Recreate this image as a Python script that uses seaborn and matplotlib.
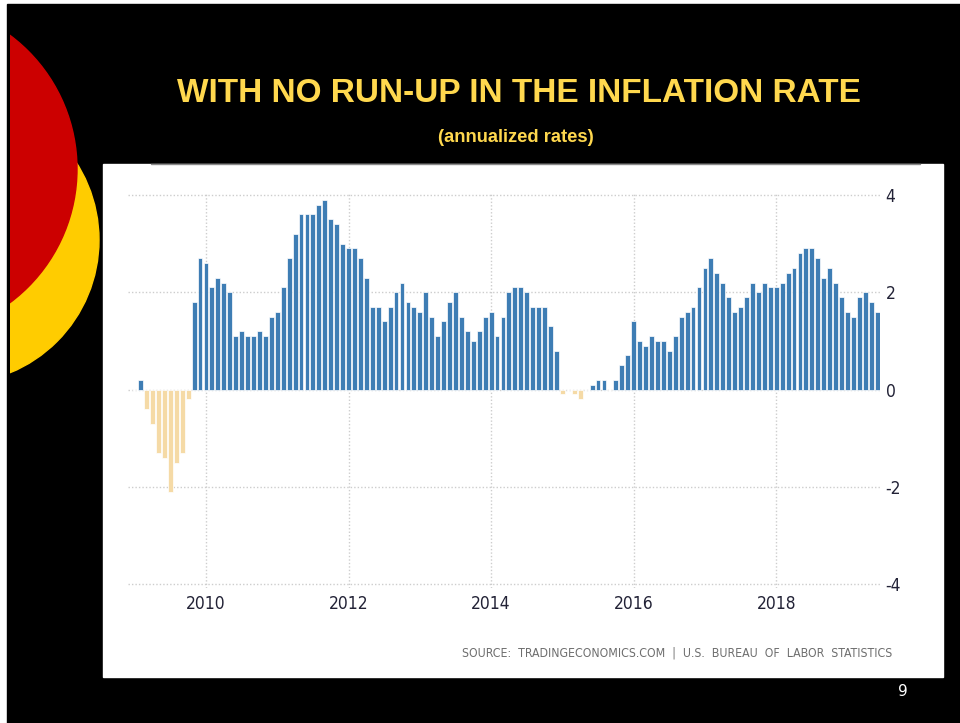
import numpy as np
import pandas as pd
import matplotlib
matplotlib.use("Agg")
import matplotlib.pyplot as plt
from matplotlib.patches import Rectangle, Circle
from matplotlib.lines import Line2D
import seaborn as sns

# US consumer prices, year-over-year change (%), monthly from January 2009
first_month = "2009-01"
cpi_yoy = [
    # 2009
    0.0, 0.2, -0.4, -0.7, -1.3, -1.4, -2.1, -1.5, -1.3, -0.2, 1.8, 2.7,
    # 2010
    2.6, 2.1, 2.3, 2.2, 2.0, 1.1, 1.2, 1.1, 1.1, 1.2, 1.1, 1.5,
    # 2011
    1.6, 2.1, 2.7, 3.2, 3.6, 3.6, 3.6, 3.8, 3.9, 3.5, 3.4, 3.0,
    # 2012
    2.9, 2.9, 2.7, 2.3, 1.7, 1.7, 1.4, 1.7, 2.0, 2.2, 1.8, 1.7,
    # 2013
    1.6, 2.0, 1.5, 1.1, 1.4, 1.8, 2.0, 1.5, 1.2, 1.0, 1.2, 1.5,
    # 2014
    1.6, 1.1, 1.5, 2.0, 2.1, 2.1, 2.0, 1.7, 1.7, 1.7, 1.3, 0.8,
    # 2015
    -0.1, 0.0, -0.1, -0.2, 0.0, 0.1, 0.2, 0.2, 0.0, 0.2, 0.5, 0.7,
    # 2016
    1.4, 1.0, 0.9, 1.1, 1.0, 1.0, 0.8, 1.1, 1.5, 1.6, 1.7, 2.1,
    # 2017
    2.5, 2.7, 2.4, 2.2, 1.9, 1.6, 1.7, 1.9, 2.2, 2.0, 2.2, 2.1,
    # 2018
    2.1, 2.2, 2.4, 2.5, 2.8, 2.9, 2.9, 2.7, 2.3, 2.5, 2.2, 1.9,
    # 2019
    1.6, 1.5, 1.9, 2.0, 1.8, 1.6,
]
year_ticks = [2010, 2012, 2014, 2016, 2018]
y_ticks = [-4, -2, 0, 2, 4]

title = "WITH NO RUN-UP IN THE INFLATION RATE"
subtitle = "(annualized rates)"
source = "SOURCE:  TRADINGECONOMICS.COM  |  U.S.  BUREAU  OF  LABOR  STATISTICS"
page_number = "9"

BLUE = "#3E7DB4"
TAN = "#F5DAA6"
YELLOW_TEXT = "#FFD84E"
NARROW = dict(family=["DejaVu Sans"], stretch="condensed")

months = pd.period_range(first_month, periods=len(cpi_yoy), freq="M")
df = pd.DataFrame({
    "t": months.year + (months.month - 1) / 12.0,
    "rate": cpi_yoy,
})
df["sign"] = np.where(df["rate"] < 0, "down", "up")

sns.set_theme(style="white")
plt.rcParams["font.family"] = ["Liberation Sans", "DejaVu Sans"]

W, H = 960, 723
fig = plt.figure(figsize=(W / 100, H / 100), dpi=100, facecolor="white")


def frame(x0, y0, x1, y1):
    """Figure-fraction rectangle from pixel edges (origin top-left)."""
    return [x0 / W, 1 - y1 / H, (x1 - x0) / W, (y1 - y0) / H]


# Slide layer in pixel coordinates
bg = fig.add_axes([0, 0, 1, 1])
bg.set_xlim(0, W)
bg.set_ylim(H, 0)
bg.axis("off")

bg.add_patch(Rectangle((7, 4), W, H, color="black", zorder=0))
slide_clip = Rectangle((9.5, 4), W, H, transform=bg.transData)
yellow_disc = Circle((-44.6, 240), 143.6, color="#FFCC00", zorder=1)
red_disc = Circle((-89.8, 169), 166.8, color="#CC0000", zorder=2)
for disc in (yellow_disc, red_disc):
    bg.add_patch(disc)
    disc.set_clip_path(slide_clip)

bg.add_patch(Rectangle((103, 164), 840, 513, color="white", zorder=3))
bg.add_line(Line2D([151, 920], [163.5, 163.5], color="#8a8a8a", lw=1, zorder=4))

bg.text(519, 93, title, color=YELLOW_TEXT, fontsize=24, fontweight="bold",
        ha="center", va="center", zorder=5)
bg.text(516, 138, subtitle, color=YELLOW_TEXT, fontsize=13.2, fontweight="bold",
        ha="center", va="center", zorder=5)
bg.text(892, 653, source, color="#6e6e6e", fontsize=8.8,
        ha="right", va="center", zorder=5, **NARROW)
bg.text(903, 692, page_number, color="white", fontsize=11, family=["DejaVu Sans"],
        ha="center", va="center", zorder=5)

# Chart
ax = fig.add_axes(frame(128, 194, 880, 588))
ax.set_facecolor("none")
sns.barplot(data=df, x="t", y="rate", hue="sign",
            palette={"up": BLUE, "down": TAN}, saturation=1,
            native_scale=True, dodge=False, width=0.82, errorbar=None,
            legend=False, edgecolor="white", linewidth=0.5, ax=ax)

ax.set_xlim(2008.906, 2019.456)
ax.set_ylim(-4.08, 4.02)
ax.set_xticks(year_ticks)
ax.set_xticklabels([str(y) for y in year_ticks])
ax.set_yticks(y_ticks)
ax.set_yticklabels([str(v) for v in y_ticks])
ax.yaxis.tick_right()
ax.set_xlabel("")
ax.set_ylabel("")
ax.grid(True, linestyle=(0, (1, 1.5)), color="#cdcdcd", lw=1)
ax.set_axisbelow(True)
for s in ax.spines.values():
    s.set_visible(False)
ax.tick_params(axis="x", length=0, pad=5, labelsize=12.5, labelcolor="#222236")
ax.tick_params(axis="y", length=0, pad=4, labelsize=12.5, labelcolor="#222236")
for lab in ax.get_xticklabels() + ax.get_yticklabels():
    lab.set_family(NARROW["family"])
    lab.set_stretch(NARROW["stretch"])

fig.savefig("out.png", dpi=100, facecolor=fig.get_facecolor())
